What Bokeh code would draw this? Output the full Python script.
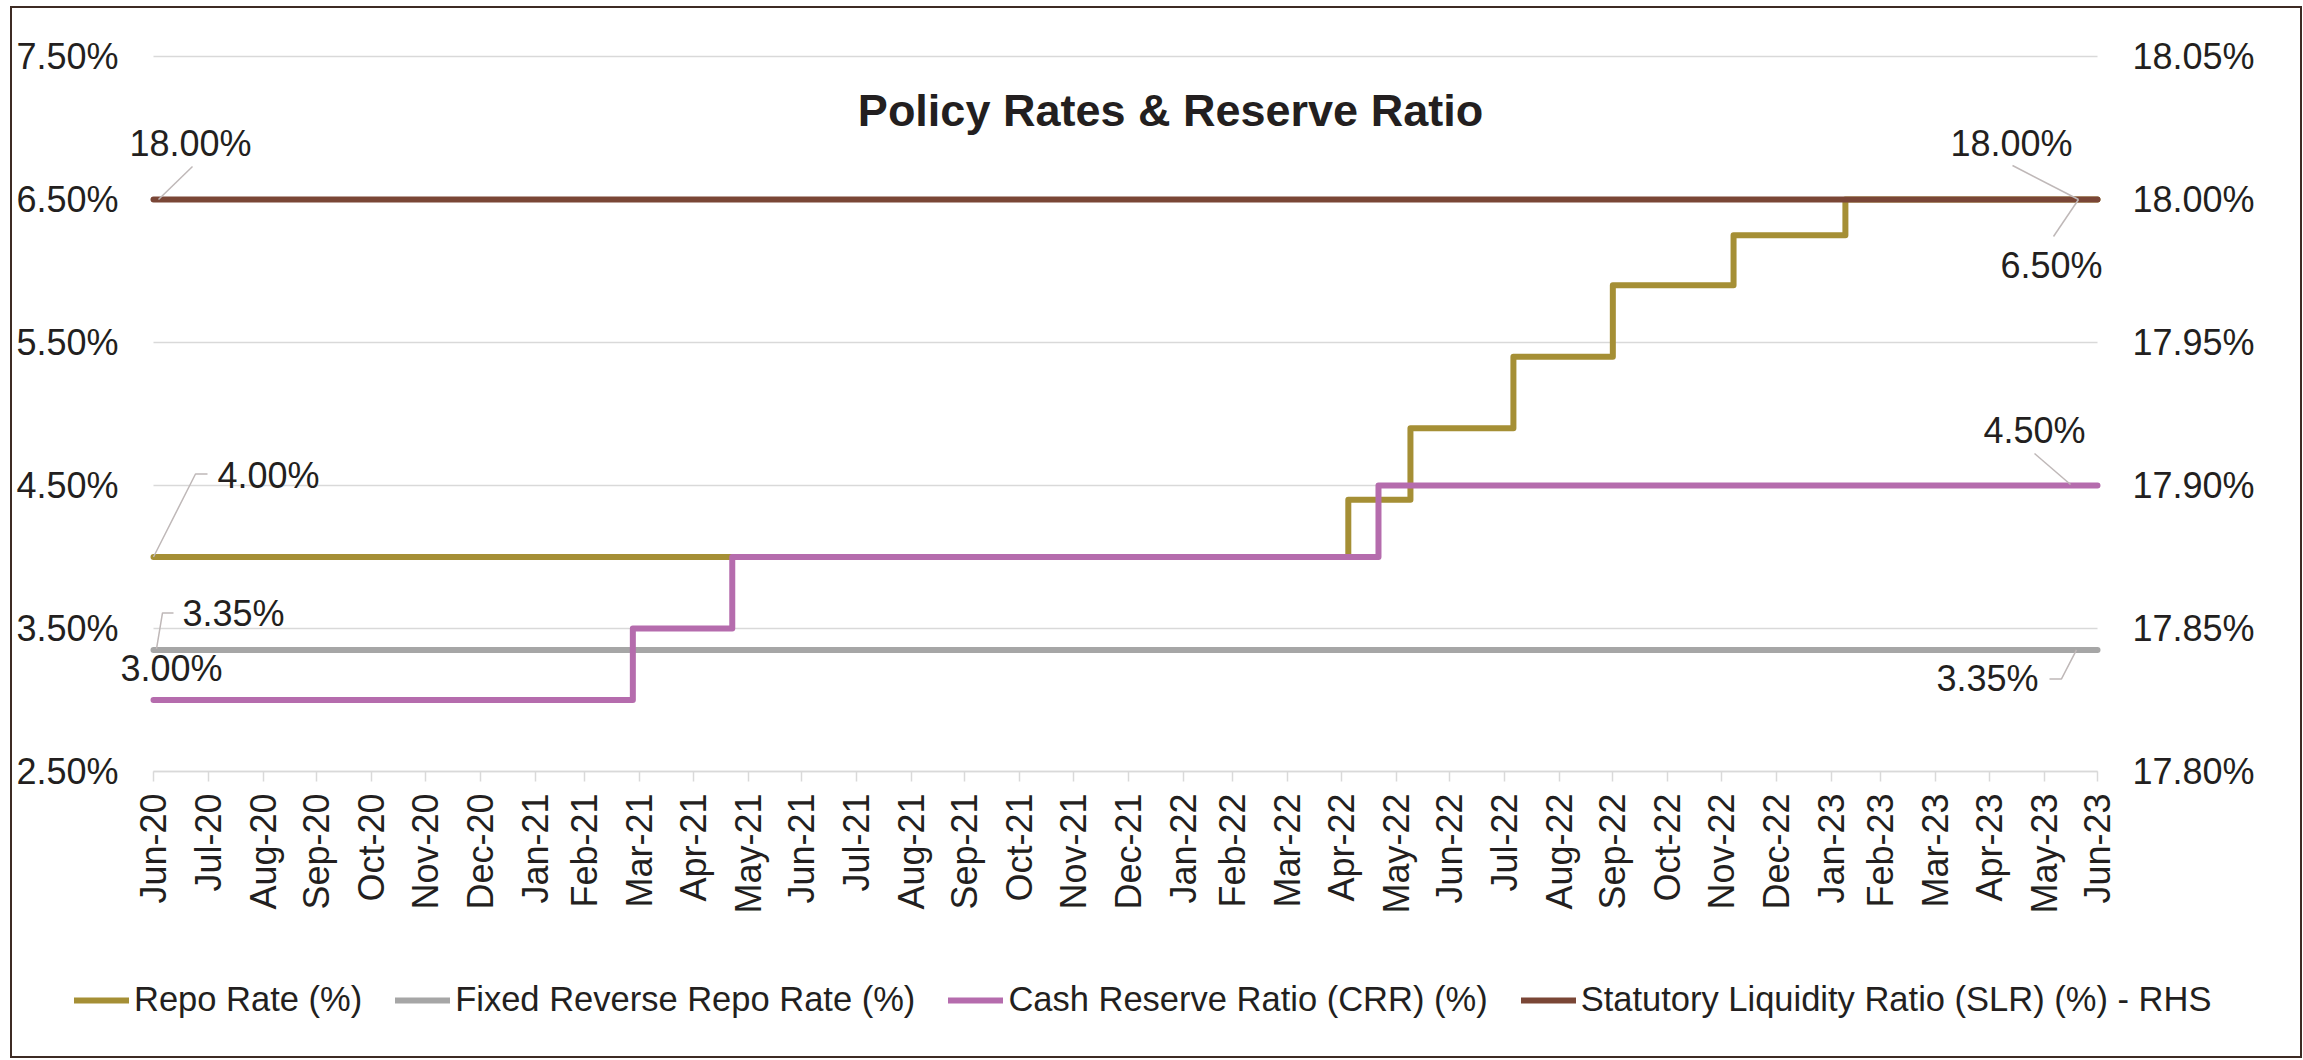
import pandas as pd
from bokeh.plotting import figure
from bokeh.models import (Range1d, LinearAxis, FixedTicker, PrintfTickFormatter,
                          DatetimeTickFormatter, Label, Legend, LegendItem, InlineStyleSheet)
from bokeh.embed import file_html
from bokeh.resources import INLINE

# ---------------- data ----------------
start_date = "2020-06-30"
end_date = "2023-06-30"

month_labels = ["Jun-20", "Jul-20", "Aug-20", "Sep-20", "Oct-20", "Nov-20", "Dec-20",
                "Jan-21", "Feb-21", "Mar-21", "Apr-21", "May-21", "Jun-21", "Jul-21",
                "Aug-21", "Sep-21", "Oct-21", "Nov-21", "Dec-21", "Jan-22", "Feb-22",
                "Mar-22", "Apr-22", "May-22", "Jun-22", "Jul-22", "Aug-22", "Sep-22",
                "Oct-22", "Nov-22", "Dec-22", "Jan-23", "Feb-23", "Mar-23", "Apr-23",
                "May-23", "Jun-23"]

repo_dates = ["2020-06-30", "2022-05-04", "2022-06-08", "2022-08-05", "2022-09-30",
              "2022-12-07", "2023-02-08"]
repo_values = [4.00, 4.40, 4.90, 5.40, 5.90, 6.25, 6.50]

rrr_dates = ["2020-06-30"]
rrr_values = [3.35]

crr_dates = ["2020-06-30", "2021-03-27", "2021-05-22", "2022-05-21"]
crr_values = [3.00, 3.50, 4.00, 4.50]

slr_dates = ["2020-06-30"]
slr_values = [18.00]

left_ticks = [2.5, 3.5, 4.5, 5.5, 6.5, 7.5]
right_ticks = [17.80, 17.85, 17.90, 17.95, 18.00, 18.05]

series_names = ["Repo Rate (%)", "Fixed Reverse Repo Rate (%)",
                "Cash Reserve Ratio (CRR) (%)", "Statutory Liquidity Ratio (SLR) (%) - RHS"]
colors = ["#a58f35", "#a6a6a6", "#b56cad", "#7a4636"]

# ---------------- layout helpers (pixels) ----------------
def ms(s):
    return int(pd.Timestamp(s).value // 10**6)

x0, x1 = ms(start_date), ms(end_date)

def step_xy(dates, values):
    xs = [ms(d) for d in dates] + [x1]
    ys = list(values) + [values[-1]]
    return xs, ys

W, H = 2303, 1060
FL, FR, FT, FB = 12, 2292, 10, 1052   # frame (covers the whole chart box)
DL, DR = 153, 2097                    # plot-area left/right (data span)
PT, PB = 56, 771                      # plot-area top/bottom (7.50% / 2.50%)
ms_per_px = (x1 - x0) / (DR - DL)
pct_per_px = (left_ticks[-1] - left_ticks[0]) / (PB - PT)
slr_per_px = (right_ticks[-1] - right_ticks[0]) / (PB - PT)

FONT = "Liberation Sans"
TXT = "#231f20"
GRID = "#d9d9d9"

p = figure(width=W, height=H, x_axis_type="datetime", output_backend="svg",
           toolbar_location=None, min_border_left=FL, min_border_right=W - FR,
           min_border_top=FT, min_border_bottom=H - FB,
           x_range=Range1d(x0 - (DL - FL) * ms_per_px, x1 + (FR - DR) * ms_per_px),
           y_range=Range1d(left_ticks[0] - (FB - PB) * pct_per_px,
                           left_ticks[-1] + (PT - FT) * pct_per_px))
p.extra_y_ranges = {"slr": Range1d(right_ticks[0] - (FB - PB) * slr_per_px,
                                   right_ticks[-1] + (PT - FT) * slr_per_px)}
p.outline_line_color = None
p.background_fill_color = "white"
p.border_fill_color = "white"
p.stylesheets = [InlineStyleSheet(css=(
    ":host { position: relative; }"
    ":host::after { content: ''; position: absolute; left: 10px; top: 6px; "
    "width: 2292px; height: 1052px; border: 2px solid #3d2b24; box-sizing: border-box; "
    "pointer-events: none; z-index: 100; }"))]

# x axis (drawn at the 2.50% level)
month_ends = pd.date_range(start_date, periods=len(month_labels), freq=pd.offsets.MonthEnd())
tick_ms = [int(t.value // 10**6) for t in month_ends]
xa = p.xaxis[0]
xa.fixed_location = left_ticks[0]
xa.ticker = FixedTicker(ticks=tick_ms)
fmt = "%b-%y"
xa.formatter = DatetimeTickFormatter(milliseconds=fmt, seconds=fmt, minsec=fmt, minutes=fmt,
                                     hourmin=fmt, hours=fmt, days=fmt, months=fmt, years=fmt)
xa.major_label_overrides = {t: lab for t, lab in zip(tick_ms, month_labels)}
xa.bounds = (x0, x1)
xa.major_label_orientation = 3.14159265 / 2
xa.major_label_text_font = FONT
xa.major_label_text_font_size = "36px"
xa.major_label_text_color = TXT
xa.axis_line_color = GRID
xa.axis_line_width = 1.5
xa.major_tick_line_color = GRID
xa.major_tick_line_width = 1.5
xa.major_tick_out = 10
xa.major_tick_in = 0
xa.minor_tick_line_color = None
xa.major_label_standoff = 12

# left y axis (labels end 35px left of the plot area)
ya = p.yaxis[0]
ya.fixed_location = x0 - 35 * ms_per_px
ya.ticker = FixedTicker(ticks=left_ticks)
ya.formatter = PrintfTickFormatter(format="%.2f%%")
ya.axis_line_color = None
ya.major_tick_line_color = None
ya.minor_tick_line_color = None
ya.major_tick_out = 0
ya.major_tick_in = 0
ya.major_label_standoff = 0
ya.major_label_text_font = FONT
ya.major_label_text_font_size = "36px"
ya.major_label_text_color = TXT

# right y axis (SLR)
ra = LinearAxis(y_range_name="slr", ticker=FixedTicker(ticks=right_ticks),
                formatter=PrintfTickFormatter(format="%.2f%%"))
ra.fixed_location = x1 + 35 * ms_per_px
ra.axis_line_color = None
ra.major_tick_line_color = None
ra.minor_tick_line_color = None
ra.major_tick_out = 0
ra.major_tick_in = 0
ra.major_label_standoff = 0
ra.major_label_text_font = FONT
ra.major_label_text_font_size = "36px"
ra.major_label_text_color = TXT
p.add_layout(ra, "right")

p.xgrid.visible = False
p.ygrid.visible = False
# horizontal gridlines spanning only the data period
p.segment(x0=[x0] * len(left_ticks), x1=[x1] * len(left_ticks), y0=left_ticks, y1=left_ticks,
          line_color=GRID, line_width=1.5)

# ---------------- series ----------------
LW = 6
renderers = []
for (dates, vals, col, rng) in [(repo_dates, repo_values, colors[0], "default"),
                                (rrr_dates, rrr_values, colors[1], "default"),
                                (crr_dates, crr_values, colors[2], "default"),
                                (slr_dates, slr_values, colors[3], "slr")]:
    xs, ys = step_xy(dates, vals)
    r = p.step(xs, ys, mode="after", line_color=col, line_width=LW,
               line_join="round", line_cap="round", y_range_name=rng)
    renderers.append(r)

# ---------------- data labels ----------------
LEAD = "#bfb8b8"

def label(xv, yv, dx, dy, text, rng="default", align="center"):
    p.add_layout(Label(x=xv, y=yv, x_offset=dx, y_offset=dy, text=text,
                       text_align=align, text_baseline="middle", text_font=FONT,
                       text_font_size="36px", text_color=TXT, y_range_name=rng))

def leader(xv, yv, pts, rng="default"):
    per = slr_per_px if rng == "slr" else pct_per_px
    xs = [xv + dx * ms_per_px for dx, dy in pts]
    ys = [yv + dy * per for dx, dy in pts]
    p.line(xs, ys, line_color=LEAD, line_width=1.5, y_range_name=rng)

# SLR start / end
label(x0, slr_values[0], 37, 56, f"{slr_values[0]:.2f}%", "slr")
leader(x0, slr_values[0], [(5, 0), (39, 33)], "slr")
label(x1, slr_values[-1], -86, 56, f"{slr_values[-1]:.2f}%", "slr")
leader(x1, slr_values[-1], [(-19, 0), (-85, 34)], "slr")
# Repo start / end
label(x0, repo_values[0], 64, 82, f"{repo_values[0]:.2f}%", align="left")
leader(x0, repo_values[0], [(0, 0), (42, 83), (54, 83)])
label(x1, repo_values[-1], -46, -66, f"{repo_values[-1]:.2f}%")
leader(x1, repo_values[-1], [(-19, 0), (-44, -37)])
# Reverse repo start / end
label(x0, rrr_values[0], 29, 36, f"{rrr_values[0]:.2f}%", align="left")
leader(x0, rrr_values[0], [(3, 1), (9, 37), (20, 37)])
label(x1, rrr_values[-1], -110, -29, f"{rrr_values[-1]:.2f}%")
leader(x1, rrr_values[-1], [(-21, 0), (-36, -29), (-48, -29)])
# CRR start / end
label(x0, crr_values[0], 18, 32, f"{crr_values[0]:.2f}%")
label(x1, crr_values[-1], -63, 55, f"{crr_values[-1]:.2f}%")
leader(x1, crr_values[-1], [(-27, 1), (-63, 32)])

# title
p.add_layout(Label(x=(x0 + x1) / 2, y=left_ticks[-1], x_offset=45, y_offset=-54,
                   text="Policy Rates & Reserve Ratio", text_align="center",
                   text_baseline="middle", text_font=FONT, text_font_size="45px",
                   text_font_style="bold", text_color=TXT))

# ---------------- legend ----------------
legend = Legend(items=[LegendItem(label=n, renderers=[r]) for n, r in zip(series_names, renderers)],
                orientation="horizontal", location=(74 - FL, FB - 1019),
                padding=0, margin=0, spacing=33, label_standoff=5,
                glyph_width=55, glyph_height=30, label_height=30,
                label_text_font=FONT, label_text_font_size="34.5px", label_text_color=TXT,
                border_line_color=None, background_fill_alpha=0)
p.add_layout(legend)

open("out.html", "w").write(file_html(p, INLINE))
